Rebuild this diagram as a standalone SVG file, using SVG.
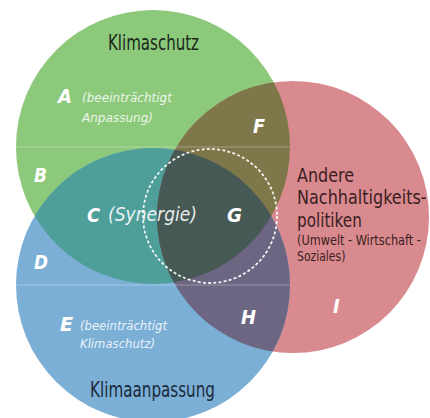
<svg xmlns="http://www.w3.org/2000/svg" width="430" height="418" viewBox="0 0 430 418">
<defs>
<style>
.t{font-family:"Liberation Sans Narrow","DejaVu Sans Condensed","Liberation Sans",sans-serif}
.title{font-size:21px}
.at{font-size:19px}
.lt{font-size:20px;font-weight:bold;font-style:italic;fill:#fff}
.ann{font-size:13px;font-style:italic;fill:#fff;fill-opacity:0.85}
.hl{stroke:#fff;stroke-opacity:0.3;stroke-width:1}
</style>
<clipPath id="cg"><circle cx="153" cy="147" r="137"/></clipPath>
<clipPath id="cb"><circle cx="153" cy="285" r="137"/></clipPath>
<clipPath id="cr"><circle cx="293" cy="217" r="136"/></clipPath>
</defs>
<rect width="430" height="418" fill="#fff"/>
<g id="circles">
<circle id="c-green" cx="153" cy="147" r="137" fill="#8dc97b"/>
<circle id="c-red" cx="293" cy="217" r="136" fill="#d98a8e"/>
<circle id="c-blue" cx="153" cy="285" r="137" fill="#7cafd6"/>
<g clip-path="url(#cg)"><circle cx="153" cy="285" r="137" fill="#4e9e9a"/></g>
<g clip-path="url(#cg)"><circle cx="293" cy="217" r="136" fill="#7d7749"/></g>
<g clip-path="url(#cb)"><circle cx="293" cy="217" r="136" fill="#6d6683"/></g>
<g clip-path="url(#cg)"><g clip-path="url(#cb)"><circle cx="293" cy="217" r="136" fill="#465955"/></g></g>
<g clip-path="url(#cg)"><line class="hl" x1="10" y1="147" x2="300" y2="147"/></g>
<g clip-path="url(#cb)"><line class="hl" x1="10" y1="285" x2="300" y2="285"/></g>
</g>
<g id="connectors">
<circle cx="210" cy="216" r="67" fill="none" stroke="#fff" stroke-width="1.8" stroke-dasharray="3,2.2" stroke-opacity="0.9"/>
</g>
<g id="klimaschutz" class="t">
<text class="title" x="108" y="50" fill="#1b2a1b" textLength="91" lengthAdjust="spacingAndGlyphs">Klimaschutz</text>
</g>
<g id="region-a" class="t">
<text class="lt" x="58" y="103" textLength="14" lengthAdjust="spacingAndGlyphs">A</text>
<text class="ann" x="82" y="102" textLength="90" lengthAdjust="spacingAndGlyphs">(beeinträchtigt</text>
<text class="ann" x="82" y="122" textLength="71" lengthAdjust="spacingAndGlyphs">Anpassung)</text>
</g>
<g id="region-b" class="t"><text class="lt" x="34" y="182" textLength="13" lengthAdjust="spacingAndGlyphs">B</text></g>
<g id="region-c" class="t">
<text class="lt" x="87" y="222" textLength="13" lengthAdjust="spacingAndGlyphs">C</text>
<text x="108" y="221" font-size="19" font-style="italic" fill="#fff" fill-opacity="0.9" textLength="89" lengthAdjust="spacingAndGlyphs">(Synergie)</text>
</g>
<g id="region-d" class="t"><text class="lt" x="34" y="269" textLength="14" lengthAdjust="spacingAndGlyphs">D</text></g>
<g id="region-e" class="t">
<text class="lt" x="60" y="331" textLength="13" lengthAdjust="spacingAndGlyphs">E</text>
<text class="ann" x="80" y="330" textLength="87" lengthAdjust="spacingAndGlyphs">(beeinträchtigt</text>
<text class="ann" x="80" y="348" textLength="75" lengthAdjust="spacingAndGlyphs">Klimaschutz)</text>
</g>
<g id="region-f" class="t"><text class="lt" x="253" y="133" textLength="12" lengthAdjust="spacingAndGlyphs">F</text></g>
<g id="region-g" class="t"><text class="lt" x="227" y="222" textLength="15" lengthAdjust="spacingAndGlyphs">G</text></g>
<g id="region-h" class="t"><text class="lt" x="241" y="324" textLength="15" lengthAdjust="spacingAndGlyphs">H</text></g>
<g id="region-i" class="t"><text class="lt" x="333" y="313">I</text></g>
<g id="klimaanpassung" class="t">
<text class="title" x="90" y="397" fill="#1b2a3a" textLength="125" lengthAdjust="spacingAndGlyphs">Klimaanpassung</text>
</g>
<g id="andere" class="t" fill="#3a2022" transform="translate(297 0) scale(0.82 1)">
<text class="at" x="0" y="182" textLength="69.5" lengthAdjust="spacingAndGlyphs">Andere</text>
<text class="at" x="0" y="204" textLength="158" lengthAdjust="spacingAndGlyphs">Nachhaltigkeits-</text>
<text class="at" x="0" y="227" textLength="79" lengthAdjust="spacingAndGlyphs">politiken</text>
<text x="0" y="245" font-size="14.5" textLength="151" lengthAdjust="spacingAndGlyphs">(Umwelt - Wirtschaft -</text>
<text x="0" y="261" font-size="14.5" textLength="59" lengthAdjust="spacingAndGlyphs">Soziales)</text>
</g>
</svg>
